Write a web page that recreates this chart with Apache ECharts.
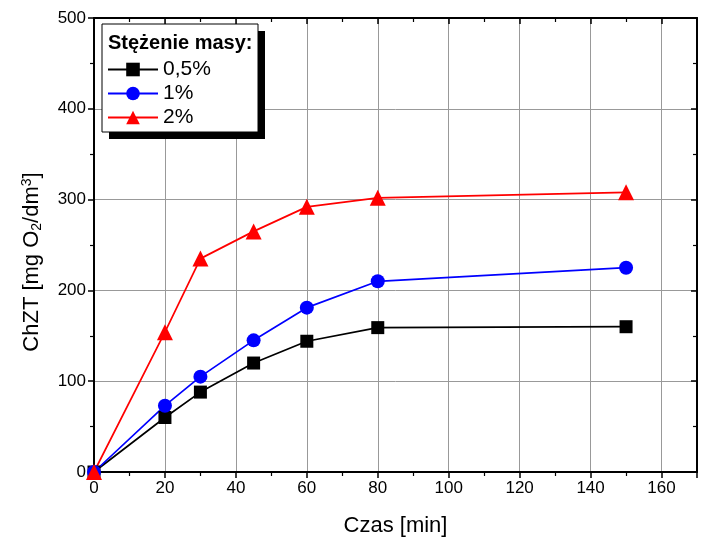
<!DOCTYPE html>
<html><head><meta charset="utf-8">
<script src="https://cdn.jsdelivr.net/npm/echarts@6/dist/echarts.min.js"></script>
<style>html,body{margin:0;padding:0;background:#fff}#c{width:708px;height:542px}</style>
</head><body><div id="c"></div>
<script>
const times = [0, 20, 30, 45, 60, 80, 150];
const s05 = [0, 60, 88, 120, 144, 159, 160];
const s1 = [0, 73, 105, 145, 181, 210, 225];
const s2 = [0, 154, 235, 265, 292, 302, 308];
const seriesNames = ['0,5%', '1%', '2%'];
const legendTitle = 'Stężenie masy:';
const xTitle = 'Czas [min]';

const chart = echarts.init(document.getElementById('c'));
const font = 'Arial, "Liberation Sans", sans-serif';
const pair = a => times.map((t, i) => [t, a[i]]);
const tickLbl = {color: '#000', fontSize: 17, fontFamily: font};
function frameAxis(pos, isX, main) {
  return {
    type: 'value', position: pos, min: 0, max: isX ? 170 : 500, interval: isX ? 20 : 100,
    axisLine: {show: true, onZero: false, lineStyle: {color: '#000', width: 2}},
    axisTick: {show: true, inside: !main, length: 6, lineStyle: {color: '#000', width: 1.5}},
    minorTick: {show: true, splitNumber: 2, length: 4, lineStyle: {color: '#000', width: 1.2}},
    axisLabel: main ? Object.assign({margin: 8, showMaxLabel: !isX}, tickLbl) : {show: false},
    splitLine: {show: main, lineStyle: {color: '#999', width: 1}},
  };
}
const xMain = frameAxis('bottom', true, true);
xMain.name = xTitle; xMain.nameLocation = 'middle'; xMain.nameGap = 43;
xMain.nameTextStyle = {color: '#000', fontSize: 22, fontFamily: font};
const yMain = frameAxis('left', false, true);
yMain.name = '{a|ChZT [mg O}{s|2}{a|/dm}{p|3}{a|]}';
yMain.nameLocation = 'middle'; yMain.nameGap = 50; yMain.nameRotate = 90;
yMain.nameTextStyle = {color: '#000', fontFamily: font, padding: [0, 34, 0, 0], rich: {
  a: {fontSize: 22, color: '#000', fontFamily: font},
  s: {fontSize: 14, color: '#000', fontFamily: font, verticalAlign: 'bottom', padding: [10, 0, 0, 0]},
  p: {fontSize: 14, color: '#000', fontFamily: font, verticalAlign: 'top', padding: [0, 0, 10, 0]}
}};
const mk = (name, data, color, symbol, size) => ({
  name, type: 'line', data: pair(data), xAxisIndex: 0, yAxisIndex: 0,
  symbol, symbolSize: size, showSymbol: true,
  lineStyle: {color, width: 1.7}, itemStyle: {color}, z: 5
});
chart.setOption({
  animation: false,
  grid: {left: 94, right: 11, top: 18, bottom: 69},
  xAxis: [xMain, frameAxis('top', true, false)],
  yAxis: [yMain, frameAxis('right', false, false)],
  legend: {
    orient: 'vertical', left: 102, top: 54, itemWidth: 50, itemHeight: 17, itemGap: 3, z: 30,
    textStyle: {color: '#000', fontSize: 21, fontFamily: font},
    data: seriesNames
  },
  graphic: [
    {type: 'rect', shape: {x: 109, y: 31, width: 156, height: 108}, style: {fill: '#000'}, z: 10},
    {type: 'rect', shape: {x: 102, y: 24, width: 156, height: 108}, style: {fill: '#fff', stroke: '#000', lineWidth: 1}, z: 11},
    {type: 'text', x: 108, y: 33, style: {text: legendTitle, fill: '#000', font: 'bold 20px ' + font}, z: 12}
  ],
  series: [
    mk(seriesNames[0], s05, '#000', 'rect', 13),
    mk(seriesNames[1], s1, '#0000ff', 'circle', 14),
    mk(seriesNames[2], s2, '#ff0000', 'triangle', 16)
  ]
});
</script></body></html>
